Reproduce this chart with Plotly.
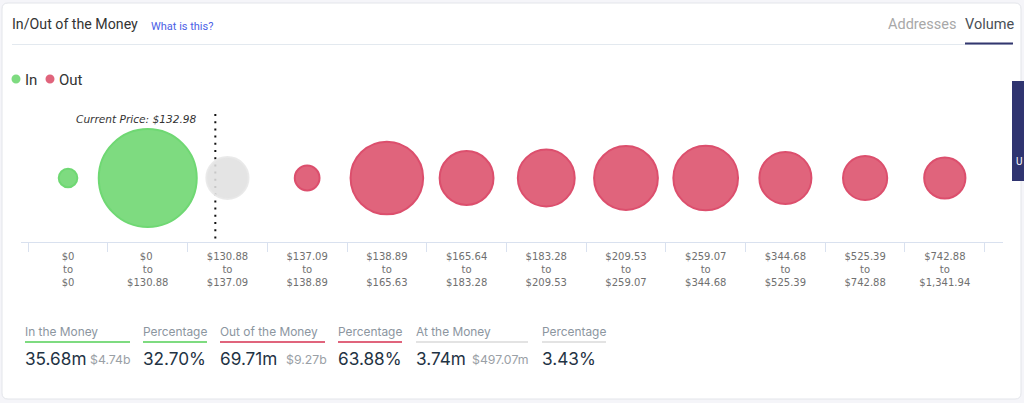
import plotly.graph_objects as go

# Data
range_labels = ["$0<br>to<br>$0", "$0 <br>to<br>$130.88", "$130.88<br>to<br>$137.09",
                "$137.09<br>to<br>$138.89", "$138.89<br>to<br>$165.63", "$165.64<br>to<br>$183.28",
                "$183.28<br>to<br>$209.53", "$209.53<br>to<br>$259.07", "$259.07<br>to<br>$344.68",
                "$344.68<br>to<br>$525.39", "$525.39<br>to<br>$742.88", "$742.88<br>to<br>$1,341.94"]
in_ranges = range_labels[:2]
in_bubble = [1.24, 34.44]
at_ranges = range_labels[2:3]
at_bubble = [6.37]
out_ranges = range_labels[3:]
out_bubble = [2.2, 18.9, 10.4, 11.6, 14.6, 15.0, 9.7, 7.0, 6.1]
current_price_text = "Current Price: $132.98"
current_price_pos = 1.848

W, H = 1024, 403
def px(x): return x / W
def py(y): return 1 - y / H

GREEN, GREEN_LINE = "#7edb80", "#6fd873"
RED, RED_LINE = "#e0647c", "#dc4f6d"
GREY, GREY_LINE = "rgba(224,224,224,0.88)", "rgba(232,232,232,0.9)"
SIZEREF = 2 * 34.44 / 98 ** 2

fig = go.Figure()
def bubbles(name, xs, vals, fill, line):
    fig.add_trace(go.Scatter(x=xs, y=[0] * len(xs), name=name, mode="markers", cliponaxis=False,
                             marker=dict(size=vals, sizemode="area", sizeref=SIZEREF, sizemin=1,
                                         color=fill, line=dict(color=line, width=2), opacity=1)))
bubbles("In", in_ranges, in_bubble, GREEN, GREEN_LINE)
bubbles("At", at_ranges, at_bubble, GREY, GREY_LINE)
bubbles("Out", out_ranges, out_bubble, RED, RED_LINE)

shapes = [
    dict(type="path", xref="paper", yref="paper", layer="below",
         path=f"M {px(8)} {py(3)} L {px(1015)} {py(3)} Q {px(1021)} {py(3)} {px(1021)} {py(9)} "
              f"L {px(1021)} {py(393)} Q {px(1021)} {py(399)} {px(1015)} {py(399)} "
              f"L {px(8)} {py(399)} Q {px(2)} {py(399)} {px(2)} {py(393)} "
              f"L {px(2)} {py(9)} Q {px(2)} {py(3)} {px(8)} {py(3)} Z",
         fillcolor="#ffffff", line=dict(color="#e3e5ea", width=1)),
    dict(type="line", xref="paper", yref="paper", x0=px(12), x1=px(1012), y0=py(44.5), y1=py(44.5),
         line=dict(color="#e3e9ef", width=1), layer="below"),
    dict(type="line", xref="paper", yref="paper", x0=px(965), x1=px(1013), y0=py(43.5), y1=py(43.5),
         line=dict(color="#33376f", width=2)),
    dict(type="rect", xref="paper", yref="paper", x0=px(1012), x1=px(1025), y0=py(81), y1=py(181),
         fillcolor="#2f3470", line=dict(width=0)),
    dict(type="circle", xref="paper", yref="paper", x0=px(11.5), x1=px(20.5), y0=py(74.5), y1=py(83.5),
         fillcolor=GREEN, line=dict(width=0)),
    dict(type="circle", xref="paper", yref="paper", x0=px(45.5), x1=px(54.5), y0=py(74.5), y1=py(83.5),
         fillcolor=RED, line=dict(width=0)),
    dict(type="line", xref="x", yref="paper", x0=current_price_pos, x1=current_price_pos,
         y0=py(114), y1=py(239), layer="below", line=dict(color="#111111", width=2, dash="2px 5.2px")),
]
for x0, x1, c in [(25, 130, "#7edb80"), (143, 207, "#7edb80"), (220, 325, "#e0647c"),
                  (338, 402, "#e0647c"), (416, 528, "#e3e3e3"), (542, 606, "#e3e3e3")]:
    shapes.append(dict(type="line", xref="paper", yref="paper", x0=px(x0), x1=px(x1),
                       y0=py(342), y1=py(342), line=dict(color=c, width=2)))

def label(x, y, text, size, color, font="Roboto", italic=False):
    fig.add_annotation(xref="paper", yref="paper", x=px(x - 2), y=py(y), text=text, showarrow=False,
                       xanchor="left", yanchor="middle", align="left",
                       font=dict(size=size, color=color, family=font,
                                 style="italic" if italic else "normal"))

label(12, 24.5, "In/Out of the Money", 14.2, "#333333", "Roboto")
label(151, 27, "What is this?", 11, "#4b60e6", "Roboto")
label(888, 24.5, "Addresses", 14.5, "#a8a8a8", "Roboto")
label(965, 24.5, "Volume", 14.5, "#4a4f55", "Roboto")
label(25, 79.5, "In", 15, "#333333", "Roboto")
label(59, 79.5, "Out", 15, "#333333", "Roboto")
label(76, 119, current_price_text, 10.6, "#333333", "DejaVu Sans", italic=True)
label(1016, 161, "U", 10, "#ffffff", "Roboto")

LABC, VALC, SUBC = "#8c969f", "#1f3344", "#9aa0a6"
for x, t in [(25, "In the Money"), (143, "Percentage"), (220, "Out of the Money"),
             (338, "Percentage"), (416, "At the Money"), (542, "Percentage")]:
    label(x, 331.5, t, 11.9, LABC, "Inter")
for x, t in [(25, "35.68m"), (143, "32.70%"), (220, "69.71m"), (338, "63.88%"),
             (416, "3.74m"), (542, "3.43%")]:
    label(x, 358.5, t, 17.2, VALC, "Inter")
for x, t in [(90, "$4.74b"), (286, "$9.27b"), (472, "$497.07m")]:
    label(x, 359, t, 12.3, SUBC, "Inter")

fig.update_layout(
    width=W, height=H, margin=dict(l=0, r=0, t=0, b=0), autosize=False,
    paper_bgcolor="#f5f5f9", plot_bgcolor="rgba(0,0,0,0)", showlegend=False, shapes=shapes,
    xaxis=dict(domain=[px(21), px(1003)], anchor="y", type="category", categoryorder="array",
               categoryarray=range_labels, range=[-0.59, 11.73], tickson="boundaries",
               ticks="outside", ticklen=9, tickcolor="#d9e1ef", tickwidth=1, showgrid=False,
               showline=True, linecolor="#d9e1ef", linewidth=1, zeroline=False,
               ticklabelstandoff=5,
               tickfont=dict(family="DejaVu Sans", size=10, color="#707070"), tickangle=0),
    yaxis=dict(domain=[py(242), py(114)], range=[-1, 1], visible=False),
)
fig.write_html("out.html", config=dict(displayModeBar=False),
               post_script="document.body.style.margin='0';document.body.style.overflow='hidden';")
